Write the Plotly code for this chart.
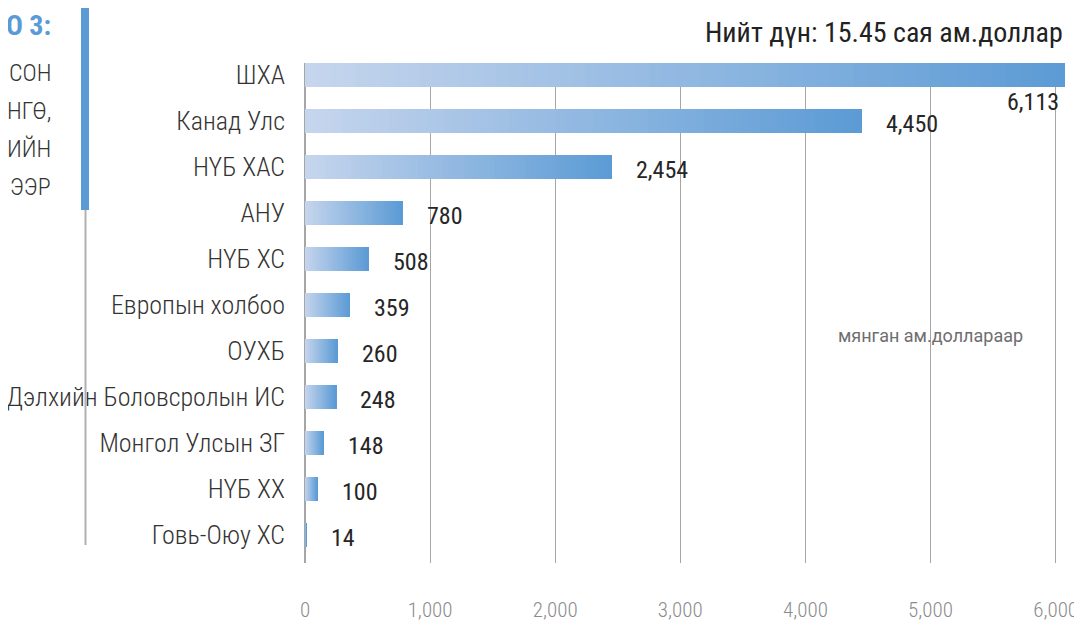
import plotly.graph_objects as go

categories = ["ШХА", "Канад Улс", "НҮБ ХАС", "АНУ", "НҮБ ХС", "Европын холбоо",
              "ОУХБ", "Дэлхийн Боловсролын ИС", "Монгол Улсын ЗГ", "НҮБ ХХ", "Говь-Оюу ХС"]
values = [6113, 4450, 2454, 780, 508, 359, 260, 248, 148, 100, 14]
value_labels = ["6,113", "4,450", "2,454", "780", "508", "359", "260", "248", "148", "100", "14"]
x_ticks = [0, 1000, 2000, 3000, 4000, 5000, 6000]
x_tick_labels = ["0", "1,000", "2,000", "3,000", "4,000", "5,000", "6,000"]
title_text = "Нийт дүн: 15.45 сая ам.доллар"
unit_text = "мянган ам.доллараар"
side_title = "О 3:"
side_lines = ["СОН", "НГӨ,", "ИЙН", "ЭЭР"]

COND = "Roboto Condensed, Liberation Sans Narrow, DejaVu Sans Condensed, Roboto, sans-serif"

# page has an 8px body margin: the figure is drawn 8px in from the top-left corner
OFF = 8
W, H = 1082 - OFF, 622 - OFF
L, R, T, B = 305 - OFF, 17, 63 - OFF, 59
PW, PH = W - L - R, H - T - B


def px_to_paper_x(px):
    return (px - OFF - L) / PW


def px_to_paper_y(py):
    return (H - B - (py - OFF)) / PH


c0 = (198, 213, 237)
c1 = (91, 155, 213)
N = 60

fig = go.Figure()
for k in range(N):
    t = (k + 0.5) / N
    col = "rgb(%d,%d,%d)" % tuple(round(c0[i] + (c1[i] - c0[i]) * t) for i in range(3))
    fig.add_trace(go.Bar(
        y=categories, x=[v / N for v in values], orientation="h",
        marker=dict(color=col, line=dict(width=0)), width=0.52,
        showlegend=False, hoverinfo="skip",
    ))

annotations = []
for i, (c, v, lab) in enumerate(zip(categories, values, value_labels)):
    if i == 0:
        annotations.append(dict(x=1, xref="paper", y=c, yref="y", text=lab, showarrow=False,
                                xanchor="right", yanchor="middle", xshift=-4, yshift=-27,
                                font=dict(family=COND, size=24, color="#262626")))
    else:
        annotations.append(dict(x=v, xref="x", y=c, yref="y", text=lab, showarrow=False,
                                xanchor="left", yanchor="middle", xshift=22, yshift=-3,
                                font=dict(family=COND, size=24, color="#262626")))

annotations.append(dict(x=1, xref="paper", y=px_to_paper_y(33), yref="paper", text=title_text,
                        showarrow=False, xanchor="right", yanchor="middle", xshift=0,
                        font=dict(family=COND, size=28, color="#222222", weight=400)))
annotations.append(dict(x=px_to_paper_x(930), xref="paper", y=px_to_paper_y(335), yref="paper",
                        text=unit_text, showarrow=False, xanchor="center", yanchor="middle",
                        font=dict(family="Roboto, sans-serif", size=18, color="#6e6e6e")))
annotations.append(dict(x=px_to_paper_x(53), xref="paper", y=px_to_paper_y(26), yref="paper",
                        text="<b>" + side_title + "</b>", showarrow=False, xanchor="right",
                        yanchor="middle", font=dict(family=COND, size=28, color="#5b9bd5")))
for j, s in enumerate(side_lines):
    annotations.append(dict(x=px_to_paper_x(53), xref="paper", y=px_to_paper_y(73 + 38 * j),
                            yref="paper", text=s, showarrow=False, xanchor="right", yanchor="middle",
                            font=dict(family=COND, size=24, color="#333333", weight=300)))

shapes = [
    dict(type="rect", xref="paper", yref="paper",
         x0=px_to_paper_x(81), x1=px_to_paper_x(89), y0=px_to_paper_y(5), y1=px_to_paper_y(210),
         fillcolor="#5b9bd5", line=dict(width=0)),
    dict(type="line", xref="paper", yref="paper",
         x0=px_to_paper_x(85.5), x1=px_to_paper_x(85.5), y0=px_to_paper_y(210), y1=px_to_paper_y(545),
         line=dict(color="#b0b0b0", width=2)),
]

fig.update_layout(
    width=W, height=H, barmode="stack",
    margin=dict(l=L, r=R, t=T, b=B, autoexpand=False),
    paper_bgcolor="white", plot_bgcolor="white",
    annotations=annotations, shapes=shapes,
    xaxis=dict(range=[0, 6075], tickvals=x_ticks, ticktext=x_tick_labels,
               showgrid=True, gridcolor="#a6a6a6", gridwidth=1,
               zeroline=True, zerolinecolor="#a6a6a6", zerolinewidth=1.5,
               showline=False, ticks="", ticklabelstandoff=32,
               tickfont=dict(family=COND, size=21, color="#8c8c8c", weight=300)),
    yaxis=dict(categoryorder="array", categoryarray=categories,
               range=[10.609, -0.261], showgrid=False, zeroline=False, showline=False,
               ticks="", ticklabelstandoff=19,
               tickfont=dict(family=COND, size=26, color="#333333", weight=300)),
)

fig.write_html("out.html")
